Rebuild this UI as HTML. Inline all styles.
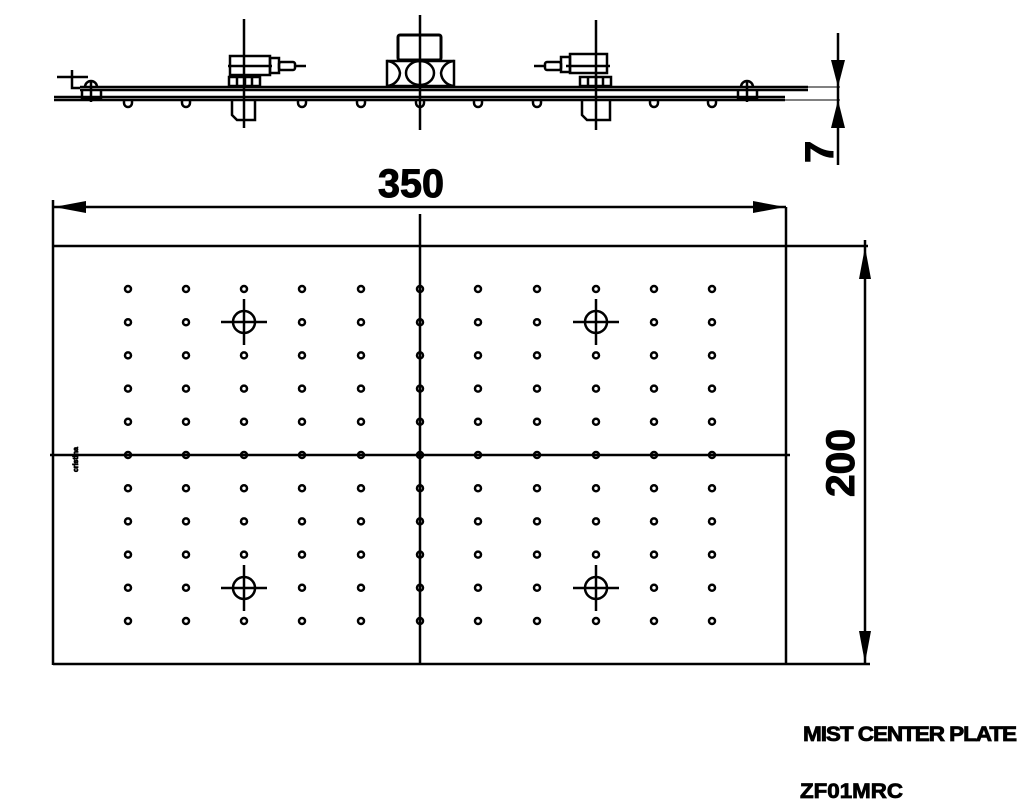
<!DOCTYPE html>
<html><head><meta charset="utf-8"><style>
html,body{margin:0;padding:0;background:#fff;width:1022px;height:806px;overflow:hidden}
svg{display:block}
text{font-family:"Liberation Sans",sans-serif;font-weight:bold;fill:#000}
</style></head><body>
<svg width="1022" height="806" viewBox="0 0 1022 806" xmlns="http://www.w3.org/2000/svg">
<g stroke="#000" fill="none" stroke-width="2.5">
<line x1="80" y1="87" x2="808" y2="87"/>
<line x1="80" y1="90" x2="808" y2="90"/>
<line x1="54" y1="97" x2="785" y2="97"/>
<line x1="54" y1="100" x2="785" y2="100"/>
<line x1="808" y1="87" x2="840" y2="87" stroke-width="1"/>
<line x1="785" y1="100" x2="840" y2="100" stroke-width="1"/>
<line x1="57" y1="77" x2="88" y2="77"/>
<path d="M72 70 V88 H80"/>
<path d="M82 90 V98 H101 V90 M85 87 A6 6 0 0 1 97 87 M91 80 V102"/>
<path d="M738 90 V98 H757 V90 M741 87 A6 6 0 0 1 753 87 M747 80 V102"/>
<path d="M124 100 v3 a4 4 0 0 0 8 0 v-3"/>
<path d="M182 100 v3 a4 4 0 0 0 8 0 v-3"/>
<path d="M298 100 v3 a4 4 0 0 0 8 0 v-3"/>
<path d="M357 100 v3 a4 4 0 0 0 8 0 v-3"/>
<path d="M416 100 v3 a4 4 0 0 0 8 0 v-3"/>
<path d="M474 100 v3 a4 4 0 0 0 8 0 v-3"/>
<path d="M533 100 v3 a4 4 0 0 0 8 0 v-3"/>
<path d="M650 100 v3 a4 4 0 0 0 8 0 v-3"/>
<path d="M708 100 v3 a4 4 0 0 0 8 0 v-3"/>
<line x1="244" y1="19" x2="244" y2="128"/>
<rect x="230" y="56" width="40" height="19"/>
<line x1="228" y1="66" x2="272" y2="66"/>
<rect x="270" y="58" width="9" height="15"/>
<rect x="279" y="62" width="16" height="8" rx="2"/>
<line x1="295" y1="66" x2="306" y2="66"/>
<rect x="229" y="77" width="31" height="9"/>
<line x1="237" y1="77" x2="237" y2="86"/><line x1="245" y1="77" x2="245" y2="86"/><line x1="252" y1="77" x2="252" y2="86"/>
<path d="M232 100 V115 L237 120 H255 V100"/>
<line x1="596" y1="20" x2="596" y2="130"/>
<rect x="570" y="54" width="37" height="19"/>
<line x1="566" y1="66" x2="610" y2="66"/>
<rect x="561" y="57" width="9" height="15"/>
<rect x="545" y="62" width="16" height="8" rx="2"/>
<line x1="534" y1="66" x2="545" y2="66"/>
<rect x="580" y="77" width="31" height="9"/>
<line x1="588" y1="77" x2="588" y2="86"/><line x1="596" y1="77" x2="596" y2="86"/><line x1="603" y1="77" x2="603" y2="86"/>
<path d="M582 100 V115 L587 120 H610 V100"/>
<line x1="420" y1="15" x2="420" y2="130"/>
<rect x="398" y="35" width="43" height="25" rx="2" stroke-width="3"/>
<rect x="387" y="61" width="67" height="25"/>
<ellipse cx="420" cy="73" rx="14" ry="12"/>
<path d="M387 61 A14 14 0 0 1 400 73 A14 14 0 0 1 387 86"/>
<path d="M454 61 A14 14 0 0 0 441 73 A14 14 0 0 0 454 86"/>
<line x1="838" y1="33" x2="838" y2="165"/>
<line x1="53" y1="207" x2="786" y2="207"/>
<line x1="53" y1="200" x2="53" y2="665"/>
<line x1="786" y1="207" x2="786" y2="665"/>
<line x1="53" y1="246" x2="868" y2="246"/>
<line x1="53" y1="664" x2="870" y2="664"/>
<line x1="420" y1="214" x2="420" y2="664"/>
<line x1="50" y1="455" x2="790" y2="455"/>
<line x1="865" y1="240" x2="865" y2="664"/>
</g>
<g fill="#000">
<polygon points="838,87 831,60 845,60"/>
<polygon points="838,100 831,128 845,128"/>
<polygon points="54,207 86,201 86,213"/>
<polygon points="785,207 753,201 753,213"/>
<polygon points="865,247 859,279 871,279"/>
<polygon points="865,663 859,631 871,631"/>
</g>
<g id="dots" stroke="#000" stroke-width="2.5" fill="none">
</g>
<g stroke="#000" stroke-width="2.5" fill="none">
<circle cx="244" cy="322" r="11"/><line x1="221" y1="322" x2="267" y2="322"/><line x1="244" y1="299" x2="244" y2="345"/>
<circle cx="596" cy="322" r="11"/><line x1="573" y1="322" x2="619" y2="322"/><line x1="596" y1="299" x2="596" y2="345"/>
<circle cx="244" cy="588" r="11"/><line x1="221" y1="588" x2="267" y2="588"/><line x1="244" y1="565" x2="244" y2="611"/>
<circle cx="596" cy="588" r="11"/><line x1="573" y1="588" x2="619" y2="588"/><line x1="596" y1="565" x2="596" y2="611"/>
</g>
<text x="378" y="197" font-size="40" textLength="66" lengthAdjust="spacingAndGlyphs" stroke="#000" stroke-width="1">350</text>
<text transform="translate(854,497) rotate(-90)" font-size="40" textLength="68" lengthAdjust="spacingAndGlyphs" stroke="#000" stroke-width="1">200</text>
<text transform="translate(833,163) rotate(-90)" font-size="40" stroke="#000" stroke-width="1">7</text>
<text transform="translate(78,472) rotate(-90)" font-size="7" stroke="#000" stroke-width="0.8">cristina</text>
<text x="803" y="741" font-size="21" textLength="213" lengthAdjust="spacingAndGlyphs" letter-spacing="-1" stroke="#000" stroke-width="0.8">MIST CENTER PLATE</text>
<text x="800" y="798" font-size="21" textLength="103" lengthAdjust="spacingAndGlyphs" stroke="#000" stroke-width="0.8">ZF01MRC</text>
</svg>
<script>
var g=document.getElementById('dots'),s='';
var xs=[128,186,244,302,361,420,478,537,596,654,712];
for(var r=0;r<11;r++){var y=289+r*33.2;for(var c=0;c<11;c++){if((r==1||r==9)&&(c==2||c==8))continue;s+='<circle cx="'+xs[c]+'" cy="'+y.toFixed(1)+'" r="3"/>';}}
g.innerHTML=s;
</script>
</body></html>
